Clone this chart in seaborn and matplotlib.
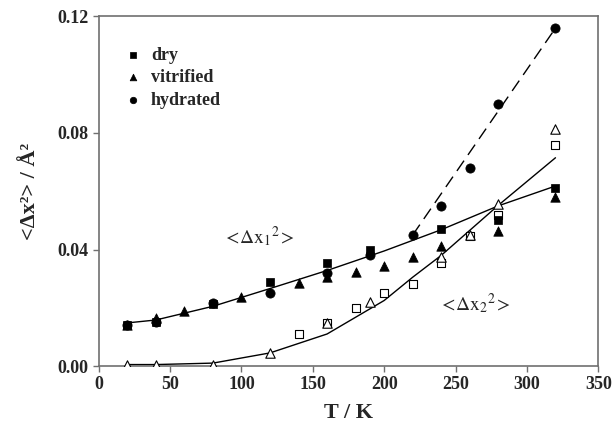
import pandas as pd
import seaborn as sns
import matplotlib.pyplot as plt

# -----------------------------
# Data
# -----------------------------
t_dry = [20, 40, 80, 120, 160, 190, 240, 280, 320]
msd1_dry = [0.0140, 0.0150, 0.0212, 0.0288, 0.0353, 0.0399, 0.0470, 0.0500, 0.0610]

t_vit = [20, 40, 60, 100, 140, 160, 180, 200, 220, 240, 280, 320]
msd1_vit = [0.0140, 0.0165, 0.0190, 0.0236, 0.0284, 0.0305, 0.0323, 0.0344, 0.0373, 0.0412, 0.0465, 0.0580]

t_hyd = [20, 40, 80, 120, 160, 190, 220, 240, 260, 280, 320]
msd1_hyd = [0.0140, 0.0150, 0.0215, 0.0250, 0.0320, 0.0380, 0.0450, 0.0550, 0.0680, 0.0900, 0.1160]

# open symbols: <dx2^2>
t_dry2 = [140, 160, 180, 200, 220, 240, 260, 280, 320]
msd2_dry = [0.0111, 0.0149, 0.0200, 0.0250, 0.0280, 0.0353, 0.0448, 0.0520, 0.0760]

t_vit2 = [20, 40, 80, 120, 160, 190, 240, 260, 280, 320]
msd2_vit = [0.0005, 0.0005, 0.0005, 0.0045, 0.0147, 0.0220, 0.0373, 0.0450, 0.0556, 0.0815]

# fitted curves
t_fit1 = [20, 40, 80, 120, 160, 200, 240, 280, 320]
fit1 = [0.0148, 0.0158, 0.0205, 0.0266, 0.0328, 0.0395, 0.0468, 0.0550, 0.0618]

t_fit2 = [20, 40, 80, 120, 160, 200, 220, 240, 280, 320]
fit2 = [0.0005, 0.0005, 0.0010, 0.0045, 0.0110, 0.0225, 0.0305, 0.0380, 0.0552, 0.0715]

t_fit_hyd = [220, 320]
fit_hyd = [0.0450, 0.1160]

# -----------------------------
# Plot
# -----------------------------
sns.set_style("ticks")
plt.rcParams["font.family"] = ["Liberation Serif", "DejaVu Serif"]
plt.rcParams["mathtext.fontset"] = "stix"

fig = plt.figure(figsize=(6.12, 4.26), dpi=100)
ax = fig.add_axes([0.1613, 0.1408, 0.8163, 0.8205])

sns.lineplot(x=t_fit1, y=fit1, ax=ax, color="black", linewidth=1.0, zorder=2)
sns.lineplot(x=t_fit2, y=fit2, ax=ax, color="black", linewidth=1.0, zorder=2)
sns.lineplot(x=t_fit_hyd, y=fit_hyd, ax=ax, color="black", linewidth=1.0,
             dashes=False, zorder=2).lines[-1].set_dashes([9, 5])

ms = 40
sns.scatterplot(x=t_dry2, y=msd2_dry, ax=ax, marker="s", s=ms, facecolor="white",
                edgecolor="black", linewidth=0.8, zorder=3)
sns.scatterplot(x=t_vit2, y=msd2_vit, ax=ax, marker="^", s=ms + 6, facecolor="white",
                edgecolor="black", linewidth=0.8, zorder=3)
sns.scatterplot(x=t_dry, y=msd1_dry, ax=ax, marker="s", s=ms, color="black",
                edgecolor="black", label="dry", zorder=4)
sns.scatterplot(x=t_vit, y=msd1_vit, ax=ax, marker="^", s=ms + 6, color="black",
                edgecolor="black", label="vitrified", zorder=4)
sns.scatterplot(x=t_hyd, y=msd1_hyd, ax=ax, marker="o", s=ms + 4, color="black",
                edgecolor="black", label="hydrated", zorder=4)

ax.set_xlim(0, 350)
ax.set_ylim(0, 0.12)
ax.set_xticks(range(0, 351, 50))
ax.set_yticks([0.0, 0.04, 0.08, 0.12])
ax.set_yticklabels(["0.00", "0.04", "0.08", "0.12"])

for lab in ax.get_xticklabels() + ax.get_yticklabels():
    lab.set_fontweight("bold")
    lab.set_fontsize(13)
ax.tick_params(direction="out", length=4, width=1, color="#707070", top=False, right=False)
for sp in ax.spines.values():
    sp.set_visible(True)
    sp.set_color("#707070")
    sp.set_linewidth(1.2)

ax.set_xlabel("T / K", fontsize=16, fontweight="bold", labelpad=7)
ax.set_ylabel("<Δx²> / Å²", fontsize=16, fontweight="bold", labelpad=12)

ax.text(112, 0.0444, r"$\mathrm{<\!\Delta x_1{}^{2}\!>}$", fontsize=14, ha="center", va="center")
ax.text(263, 0.0215, r"$\mathrm{<\!\Delta x_2{}^{2}\!>}$", fontsize=14, ha="center", va="center")

leg = ax.legend(loc="upper left", bbox_to_anchor=(0.0, 0.96), frameon=False,
                handletextpad=0.0, labelspacing=0.3, markerscale=0.7,
                prop={"weight": "bold", "size": 13})

fig.savefig("out.png", dpi=100)
